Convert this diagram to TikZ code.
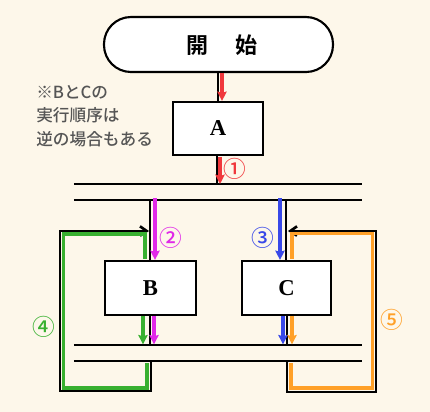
\documentclass[tikz,border=0pt]{standalone}
\usepackage{fontspec}
\newfontfamily\cjk{Noto Sans CJK JP Medium}
\newfontfamily\cjkb{Noto Sans CJK JP Bold}
\setmainfont{Liberation Serif}
\usetikzlibrary{arrows.meta}
\definecolor{bg}{HTML}{FDF7EA}
\definecolor{cred}{HTML}{F0383C}
\definecolor{cmag}{HTML}{E028E8}
\definecolor{cblue}{HTML}{3848E8}
\definecolor{cgreen}{HTML}{38B030}
\definecolor{corange}{HTML}{FFA028}
\definecolor{notegray}{HTML}{555555}
\tikzset{
  box/.style={draw=black, line width=1.6pt, fill=white, inner sep=0pt},
  bar/.style={line width=2.2pt, black},
  blk/.style={line width=2pt, black},
  flowline/.style={line width=2.6pt, -{Stealth[length=7pt,width=7pt,inset=1pt]}},
  loopc/.style={line width=2.6pt},
  num/.style={font=\cjk\fontsize{17}{17}\selectfont, inner sep=0pt},
  lbl/.style={font=\fontsize{17}{17}\selectfont\bfseries}
}
\begin{document}
\begin{tikzpicture}[x=0.75pt,y=-0.75pt]
\fill[bg] (0,0) rectangle (430,412);
\useasboundingbox (0,0) rectangle (430,412);
% nodes
\node[box, minimum width=229*0.75pt, minimum height=55*0.75pt, rounded corners=27*0.75pt] (start) at (218.5,44.5) {};
\node[font=\cjkb\fontsize{16.5}{16.5}\selectfont] (starttxt) at (222,45) {開\hspace{21pt}始};
\node[box, minimum width=90*0.75pt, minimum height=53*0.75pt, lbl] (A) at (218,128.5) {A};
\node[box, minimum width=91*0.75pt, minimum height=54*0.75pt, lbl] (B) at (150.5,288) {B};
\node[box, minimum width=89*0.75pt, minimum height=54*0.75pt, lbl] (C) at (286.5,288) {C};
% bars
\coordinate (b1L) at (74,184); \coordinate (b1R) at (362,184);
\coordinate (b2L) at (74,200); \coordinate (b2R) at (362,200);
\coordinate (b3L) at (74,345); \coordinate (b3R) at (362,345);
\coordinate (b4L) at (74,361); \coordinate (b4R) at (362,361);
% black flow lines
\draw[blk] (start.south -| 218,0) -- (A.north -| 218,0);
\draw[blk] (A.south -| 217,0) -- (b1L -| 217,0);
\draw[blk] (b2L -| 150,0) -- (B.north -| 150,0);
\draw[blk] (b2L -| 286,0) -- (C.north -| 286,0);
\draw[blk] (B.south -| 150,0) -- (b3L -| 150,0);
\draw[blk] (C.south -| 287,0) -- (b3L -| 287,0);
% black loops
\coordinate (lt) at (149,231);
\coordinate (rt) at (288,231);
\draw[blk, -{Straight Barb[length=5pt,width=7pt]}] (b4L -| 151,0) -- (151,391) -- (60,391) -- (60,231) -- (lt);
\draw[blk, -{Straight Barb[length=5pt,width=7pt]}] (b4L -| 287,0) -- (287,392) -- (376,392) -- (376,231) -- (rt);
% bars drawn
\draw[bar] (b1L) -- (b1R);
\draw[bar] (b2L) -- (b2R);
\draw[bar] (b3L) -- (b3R);
\draw[bar] (b4L) -- (b4R);
% colored flows
\draw[flowline, draw=cred, fill=cred] (start.south -| 222,0) -- (A.north -| 222,0);
\draw[flowline, draw=cred, fill=cred] ([yshift=-1pt]A.south -| 220,0) -- (b1L -| 220,0);
\draw[flowline, draw=cmag, fill=cmag] ([yshift=1.5pt]b2L -| 155,0) -- (B.north -| 155,0);
\draw[flowline, draw=cblue, fill=cblue] ([yshift=1.5pt]b2L -| 280,0) -- (C.north -| 280,0);
\draw[flowline, draw=cgreen, fill=cgreen] (B.south -| 143,0) -- ([yshift=0.5pt]b3L -| 143,0);
\draw[flowline, draw=cmag, fill=cmag] (B.south -| 154,0) -- ([yshift=0.5pt]b3L -| 154,0);
\draw[flowline, draw=cblue, fill=cblue] (C.south -| 283,0) -- ([yshift=0.5pt]b3L -| 283,0);
\draw[flowline, draw=corange, fill=corange] (C.south -| 292,0) -- ([yshift=0.5pt]b3L -| 292,0);
% colored loops
\draw[loopc, cgreen] ([yshift=-1.5pt]b4L -| 147,0) -- (147,388) -- (63.5,388) -- (63.5,234) -- (145,234) -- ([yshift=0.8pt]B.north -| 145,0);
\draw[loopc, corange] ([yshift=-1.5pt]b4L -| 291,0) -- (291,388) -- (372.5,388) -- (372.5,233.5) -- (292,233.5) -- ([yshift=0.8pt]C.north -| 292,0);
% labels
\node[num, cred] (n1) at (235,169) {①};
\node[num, cmag] (n2) at (171,238) {②};
\node[num, cblue] (n3) at (263,238) {③};
\node[num, cgreen] (n4) at (44,327) {④};
\node[num, corange] (n5) at (392,320) {⑤};
\node[font=\cjk\fontsize{12.5}{17.6}\selectfont, text=notegray, align=left, anchor=north west, inner sep=0pt] (note) at (36,85) {※BとCの\\実行順序は\\逆の場合もある};
\end{tikzpicture}
\end{document}
